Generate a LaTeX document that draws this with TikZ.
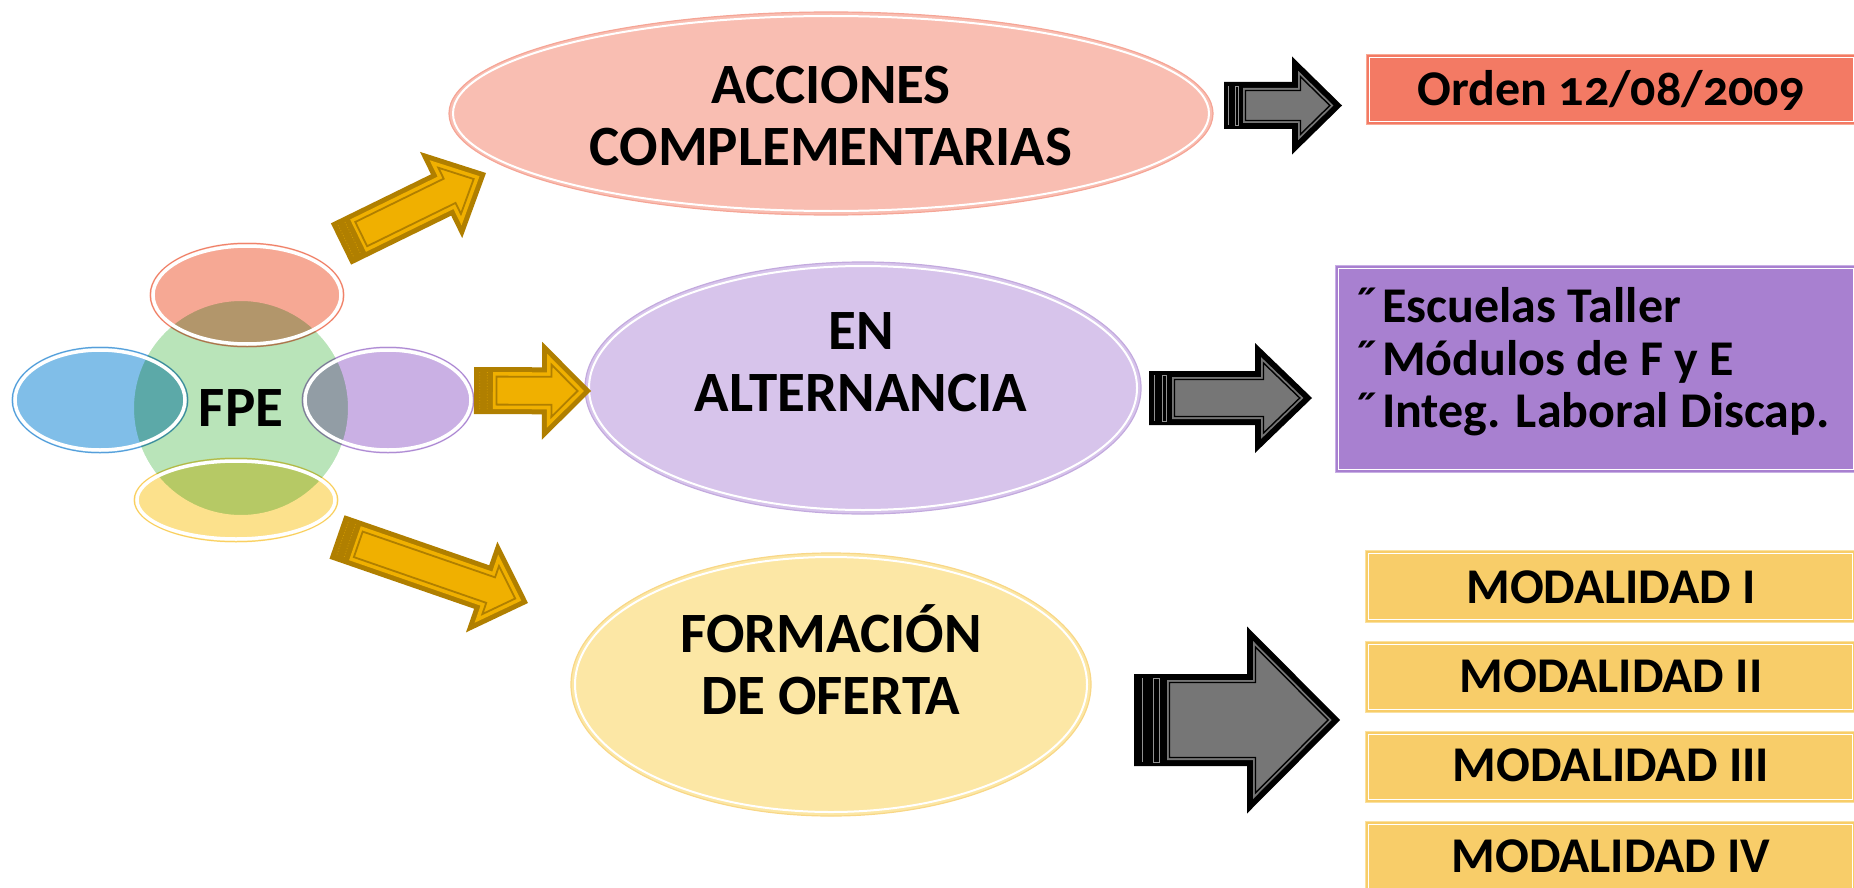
\documentclass[tikz,border=0pt]{standalone}
\usepackage{fontspec}
\setmainfont{Carlito}
\usetikzlibrary{shapes.geometric}
\definecolor{goldD}{RGB}{176,127,0}
\definecolor{goldL}{RGB}{240,176,0}
\definecolor{arrGray}{RGB}{118,118,118}
\definecolor{accFill}{RGB}{249,190,178}
\definecolor{accLine}{RGB}{245,165,150}
\definecolor{altFill}{RGB}{215,196,235}
\definecolor{altLine}{RGB}{195,170,222}
\definecolor{forFill}{RGB}{252,231,165}
\definecolor{forLine}{RGB}{248,215,135}
\definecolor{ordFill}{RGB}{243,122,100}
\definecolor{ordLine}{RGB}{248,170,150}
\definecolor{purFill}{RGB}{168,128,208}
\definecolor{purLine}{RGB}{200,175,228}
\definecolor{modFill}{RGB}{248,205,105}
\definecolor{modLine}{RGB}{250,225,160}
\definecolor{cGreen}{RGB}{185,228,185}
\definecolor{cRed}{RGB}{246,168,148}
\definecolor{cBlue}{RGB}{128,190,232}
\definecolor{cPurple}{RGB}{202,176,228}
\definecolor{cYellow}{RGB}{252,225,140}

% arrow outline: #1 options, #2 L, #3 head length, #4 head half, #5 shaft half, #6 inset, #7 tail start
\newcommand\arrowshape[7]{%
  \pgfmathsetmacro\asTip{#2-#6*veclen(#3,#4)/(#4)}%
  \pgfmathsetmacro\asBase{#2-(#3)+#6}%
  \pgfmathsetmacro\asHead{(\asTip-\asBase)*(#4)/(#3)}%
  \pgfmathsetmacro\asW{#5-#6}%
  \pgfmathsetmacro\asS{#7}%
  \path[#1] (\asS,-\asW) -- (\asBase,-\asW) -- (\asBase,-\asHead) -- (\asTip,0)
     -- (\asBase,\asHead) -- (\asBase,\asW) -- (\asS,\asW) -- cycle;}

\newcommand\goldarrowlayers[5]{%
  \arrowshape{fill=goldD}{#1}{#2}{#3}{#4}{0}{0}%
  \arrowshape{fill=goldL}{#1}{#2}{#3}{#4}{5}{#5}%
  \arrowshape{draw=goldD,line width=1.8pt,miter limit=20}{#1}{#2}{#3}{#4}{9.5}{#5+3.5}%
  \pgfmathsetmacro\stA{0.3*#5}\pgfmathsetmacro\stB{0.7*#5}\pgfmathsetmacro\stW{#4-5}%
  \draw[goldL!60!goldD,line width=0.8pt,dotted] (\stA,-\stW) -- (\stA,\stW) (\stB,-\stW) -- (\stB,\stW);}

\newcommand\darkarrowlayers[5]{%
  \arrowshape{fill=black}{#1}{#2}{#3}{#4}{0}{0}%
  \arrowshape{fill=arrGray}{#1}{#2}{#3}{#4}{6}{#5}%
  \arrowshape{draw=black,line width=1.4pt,miter limit=20}{#1}{#2}{#3}{#4}{8.5}{#5+2.5}%
  \pgfmathsetmacro\stA{0.25*#5}\pgfmathsetmacro\stB{0.58*#5}\pgfmathsetmacro\stC{0.76*#5}\pgfmathsetmacro\stW{#4-4}%
  \draw[arrGray!80,line width=0.8pt] (\stA,-\stW) -- (\stA,\stW) (\stB,-\stW) rectangle (\stC,\stW);}

% #1 kind, #2 tail coordinate, #3 tip coordinate, #4 head length, #5 head half, #6 shaft half, #7 tail block
\newcommand\blockarrow[7]{%
  \pgfpointdiff{\pgfpointanchor{#2}{center}}{\pgfpointanchor{#3}{center}}%
  \pgfgetlastxy\baDx\baDy
  \pgfmathsetmacro\baAng{atan2(\baDy,\baDx)}%
  \pgfmathsetmacro\baLen{veclen(\baDx,\baDy)}%
  \begin{scope}[shift={(#2)},rotate=\baAng]
    \csname #1arrowlayers\endcsname{\baLen}{#4}{#5}{#6}{#7}
  \end{scope}}

\newcommand\bul{\makebox[30pt][l]{˝}}

\begin{document}
\begin{tikzpicture}[x=1pt,y=-1pt,
  ell/.style={ellipse,inner sep=0pt,line width=1.2pt},
  small/.style={ellipse,inner sep=0pt,line width=1pt},
  bigtext/.style={font=\fontsize{57}{62}\selectfont\bfseries,align=center,inner sep=0pt},
  boxtext/.style={font=\fontsize{50}{52}\selectfont\bfseries,inner sep=0pt},
  listtext/.style={font=\fontsize{50}{52}\selectfont\bfseries,inner sep=0pt,anchor=base west},
  box/.style={rectangle,inner sep=0pt,line width=1.2pt,anchor=north west},
  ring/.style={white,line width=2pt}]
\useasboundingbox (0,0) rectangle (1854,888);
\clip (0,0) rectangle (1854,888);

% ---------- FPE cluster ----------
\node[circle,fill=cGreen,draw=white,line width=2pt,minimum size=216pt,inner sep=0pt] (fpeg) at (241,408) {};
\begin{scope}[blend mode=multiply]
\node[small,fill=cRed,draw=cRed,minimum width=194pt,minimum height=104pt] (er) at (247,295) {};
\node[small,fill=cBlue,draw=cBlue,minimum width=176pt,minimum height=106pt] (eb) at (100,400) {};
\node[small,fill=cPurple,draw=cPurple,minimum width=172pt,minimum height=106pt] (ep) at (388,400) {};
\node[small,fill=cYellow,draw=cYellow,minimum width=204pt,minimum height=84pt] (ey) at (236,500) {};
\end{scope}
\draw[white,line width=3.5pt] (er.center) ellipse [x radius=94pt,y radius=49pt];
\draw[white,line width=3.5pt] (eb.center) ellipse [x radius=85pt,y radius=50pt];
\draw[white,line width=3.5pt] (ep.center) ellipse [x radius=83pt,y radius=50pt];
\draw[white,line width=3.5pt] (ey.center) ellipse [x radius=99pt,y radius=39pt];
\node[font=\fontsize{57}{60}\selectfont\bfseries,inner sep=0pt] (fpet) at (241,408) {FPE};

% ---------- big ellipses ----------
\node[ell,fill=accFill,draw=accLine,minimum width=764pt,minimum height=203pt] (acc) at (831,113.5) {};
\draw[ring] (acc.center) ellipse [x radius=378pt,y radius=97.5pt];
\node[bigtext] (acct) at (831,116) {ACCIONES\\COMPLEMENTARIAS};

\node[ell,fill=altFill,draw=altLine,minimum width=556pt,minimum height=252pt] (alt) at (863,388) {};
\draw[ring] (alt.center) ellipse [x radius=274pt,y radius=122pt];
\node[bigtext] (altt) at (861,362) {EN\\ALTERNANCIA};

\node[ell,fill=forFill,draw=forLine,minimum width=520pt,minimum height=263pt] (for) at (831,684.5) {};
\draw[ring] (for.center) ellipse [x radius=256pt,y radius=127.5pt];
\node[bigtext] (fort) at (831,660) {FORMACIÓN\\DE OFERTA};

% ---------- boxes ----------
\node[box,fill=ordFill,draw=ordLine,minimum width=490pt,minimum height=70pt] (ord) at (1366,54) {};
\draw[ring,line width=1.5pt] ([shift={(3.5,3.5)}]ord.north west) rectangle ([shift={(-3.5,-3.5)}]ord.south east);
\node[boxtext] (ordt) at (1611,90) {Orden \addfontfeature{Numbers=OldStyle}12/08/2009};

\node[box,fill=purFill,draw=purLine,minimum width=521pt,minimum height=207pt] (pur) at (1335,265) {};
\draw[ring,line width=1.5pt] ([shift={(3.5,3.5)}]pur.north west) rectangle ([shift={(-3.5,-3.5)}]pur.south east);
\node[listtext] (l1) at (1352,322) {\bul Escuelas Taller};
\node[listtext] (l2) at (1352,375) {\bul Módulos de F y E};
\node[listtext] (l3) at (1352,427) {\bul Integ. Laboral Discap.};

\node[box,fill=modFill,draw=modLine,minimum width=490pt,minimum height=72pt] (m1) at (1365,550) {};
\node[box,fill=modFill,draw=modLine,minimum width=490pt,minimum height=71pt] (m2) at (1365,641) {};
\node[box,fill=modFill,draw=modLine,minimum width=490pt,minimum height=71pt] (m3) at (1365,731) {};
\node[box,fill=modFill,draw=modLine,minimum width=490pt,minimum height=80pt] (m4) at (1365,821) {};
\foreach \m in {m1,m2,m3,m4}
  \draw[ring,line width=1.5pt] ([shift={(3.5,3.5)}]\m.north west) rectangle ([shift={(-3.5,-3.5)}]\m.south east);
\node[boxtext] (m1t) at (1611,587) {MODALIDAD I};
\node[boxtext] (m2t) at (1611,676) {MODALIDAD II};
\node[boxtext] (m3t) at (1611,765) {MODALIDAD III};
\node[boxtext] (m4t) at (1611,856) {MODALIDAD IV};

% ---------- block arrows ----------
\coordinate (g1a) at (341,244);   \coordinate (g1b) at (486,173);
\coordinate (g2a) at (474,390.5); \coordinate (g2b) at (591,391);
\coordinate (g3a) at (337,537);   \coordinate (g3b) at (528,603);
\coordinate (d1a) at (1224,105.5);\coordinate (d1b) at (1342,105.5);
\coordinate (d2a) at (1149,398);  \coordinate (d2b) at (1312,398);
\coordinate (d3a) at (1134,720);  \coordinate (d3b) at (1340,720);

\blockarrow{gold}{g1a}{g1b}{50}{48}{23}{19}
\blockarrow{gold}{g2a}{g2b}{49}{49}{23.5}{19}
\blockarrow{gold}{g3a}{g3b}{49}{48}{23}{19}
\blockarrow{dark}{d1a}{d1b}{50}{49}{23.5}{19}
\blockarrow{dark}{d2a}{d2b}{57}{55}{27}{23}
\blockarrow{dark}{d3a}{d3b}{93}{93.5}{46}{33}
\end{tikzpicture}
\end{document}
